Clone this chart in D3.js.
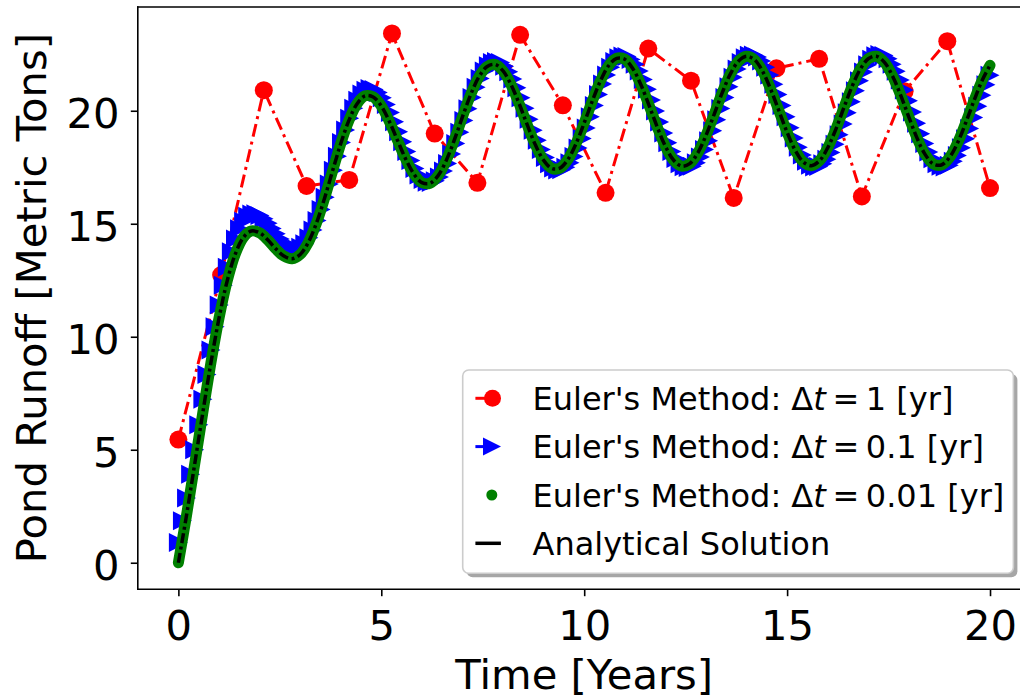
<!DOCTYPE html>
<html>
<head>
<meta charset="utf-8">
<script src="https://cdn.jsdelivr.net/npm/d3@7"></script>
<style>
  html, body { margin: 0; padding: 0; background: #ffffff; }
  svg { display: block; }
  text { white-space: pre; }
</style>
</head>
<body>
<svg id="chart" width="1020" height="698"></svg>
<script>
// Pond runoff model: Euler runs with three step sizes and the exact solution.

// Euler, Δt = 1 yr (20 stored steps spread over 0–20 yr)
const coarseValues = [5.45, 12.73, 20.91, 16.67, 16.94, 23.42, 18.99, 16.81, 23.36, 20.24,
  16.37, 22.75, 21.33, 16.14, 21.88, 22.30, 16.21, 20.86, 23.08, 16.58];

// Euler, Δt = 0.1 yr (200 stored steps spread over 0–20 yr)
const mediumValues = [
  0.90, 1.86, 2.86, 3.91, 5.00, 6.11, 7.23, 8.33, 9.41, 10.44,
  11.40, 12.28, 13.08, 13.76, 14.33, 14.78, 15.11, 15.33, 15.43, 15.44,
  15.36, 15.22, 15.02, 14.79, 14.56, 14.33, 14.13, 13.99, 13.90, 13.89,
  13.96, 14.12, 14.38, 14.72, 15.14, 15.63, 16.17, 16.76, 17.37, 17.99,
  18.59, 19.15, 19.67, 20.11, 20.47, 20.74, 20.91, 20.98, 20.94, 20.81,
  20.58, 20.28, 19.92, 19.51, 19.07, 18.63, 18.20, 17.80, 17.45, 17.16,
  16.96, 16.84, 16.82, 16.90, 17.07, 17.33, 17.67, 18.09, 18.55, 19.05,
  19.57, 20.09, 20.59, 21.04, 21.43, 21.76, 21.99, 22.14, 22.18, 22.13,
  21.97, 21.73, 21.41, 21.02, 20.58, 20.11, 19.62, 19.14, 18.69, 18.28,
  17.93, 17.66, 17.47, 17.38, 17.39, 17.50, 17.70, 17.98, 18.35, 18.77,
  19.24, 19.73, 20.23, 20.72, 21.18, 21.58, 21.92, 22.18, 22.35, 22.42,
  22.40, 22.27, 22.06, 21.76, 21.38, 20.95, 20.48, 19.99, 19.50, 19.02,
  18.58, 18.20, 17.89, 17.66, 17.52, 17.49, 17.54, 17.70, 17.95, 18.28,
  18.67, 19.12, 19.60, 20.10, 20.59, 21.06, 21.48, 21.85, 22.14, 22.35,
  22.46, 22.47, 22.38, 22.20, 21.93, 21.58, 21.17, 20.72, 20.23, 19.73,
  19.25, 18.79, 18.38, 18.04, 17.77, 17.59, 17.51, 17.53, 17.65, 17.85,
  18.15, 18.52, 18.94, 19.41, 19.91, 20.40, 20.88, 21.33, 21.72, 22.04,
  22.28, 22.43, 22.49, 22.44, 22.30, 22.06, 21.75, 21.36, 20.92, 20.44,
  19.95, 19.45, 18.98, 18.55, 18.18, 17.88, 17.66, 17.54, 17.51, 17.59,
  17.76, 18.02, 18.36, 18.76, 19.22, 19.70, 20.20, 20.69, 21.15, 21.57
];

// Exact solution, every 0.2 yr from 0 to 20
const analyticalValues = [
  0.00, 2.09, 4.34, 6.62, 8.83, 10.81, 12.45, 13.65, 14.39, 14.68,
  14.60, 14.29, 13.89, 13.57, 13.45, 13.64, 14.17, 15.02, 16.12, 17.34,
  18.54, 19.56, 20.30, 20.66, 20.61, 20.21, 19.52, 18.69, 17.87, 17.21,
  16.82, 16.79, 17.13, 17.80, 18.71, 19.73, 20.70, 21.48, 21.95, 22.05,
  21.76, 21.14, 20.30, 19.36, 18.48, 17.81, 17.45, 17.46, 17.85, 18.55,
  19.46, 20.43, 21.32, 21.99, 22.32, 22.28, 21.86, 21.14, 20.23, 19.28,
  18.43, 17.82, 17.55, 17.66, 18.14, 18.90, 19.83, 20.79, 21.62, 22.19,
  22.41, 22.25, 21.73, 20.93, 19.99, 19.05, 18.25, 17.73, 17.57, 17.79,
  18.36, 19.18, 20.14, 21.07, 21.83, 22.30, 22.41, 22.14, 21.53, 20.68,
  19.72, 18.80, 18.07, 17.65, 17.60, 17.93, 18.58, 19.46, 20.42, 21.32,
  22.01
];

// The Δt = 0.01 run sits on the exact curve at this scale, so it shares its samples.
const fineValues = analyticalValues;

const xTicks = [0, 5, 10, 15, 20];
const yTicks = [0, 5, 10, 15, 20];
const stepLabels = ["1", "0.1", "0.01"];
const xTitle = "Time [Years]";
const yTitle = "Pond Runoff [Metric Tons]";
const exactLabel = "Analytical Solution";

// Sample times of each series
const tEnd = 20;
const coarseTimes = d3.range(coarseValues.length).map(i => i * tEnd / (coarseValues.length - 1));
const mediumTimes = d3.range(mediumValues.length).map(i => i * tEnd / (mediumValues.length - 1));
const exactTimes = d3.range(analyticalValues.length).map(i => i * tEnd / (analyticalValues.length - 1));

const FONT = "'DejaVu Sans', sans-serif";
const svg = d3.select("#chart");

// Axes limits with 5% padding around the data
const [yLo, yHi] = d3.extent(coarseValues.concat(mediumValues, analyticalValues));
const yPad = 0.05 * (yHi - yLo);
const xPad = 0.05 * tEnd;
const x = d3.scaleLinear().domain([0 - xPad, tEnd + xPad]).range([137.8, 1030.6]);
const y = d3.scaleLinear().domain([yLo - yPad, yHi + yPad]).range([589.2, 7.0]);
const [xL, xR] = x.range();
const [yB, yT] = y.range();

svg.append("defs").append("clipPath").attr("id", "plotClip")
  .append("rect").attr("x", xL).attr("y", yT).attr("width", xR - xL).attr("height", yB - yT);

const plot = svg.append("g").attr("clip-path", "url(#plotClip)");

// Δt = 1 run: dash-dot line with round markers
const coarse = coarseTimes.map((t, i) => [t, coarseValues[i]]);
plot.append("path")
  .datum(coarse)
  .attr("fill", "none")
  .attr("stroke", "#ff0000")
  .attr("stroke-width", 3)
  .attr("stroke-dasharray", "13,5,3,5")
  .attr("d", d3.line().x(d => x(d[0])).y(d => y(d[1])));
plot.append("g").selectAll("circle")
  .data(coarse).join("circle")
  .attr("cx", d => x(d[0])).attr("cy", d => y(d[1]))
  .attr("r", 9).attr("fill", "#ff0000");

// Δt = 0.1 run: right-pointing triangles
const tri = 9.5;
const triPath = (cx, cy, s) => `M${cx + s},${cy}L${cx - s},${cy - s}L${cx - s},${cy + s}Z`;
plot.append("g").selectAll("path")
  .data(mediumTimes.map((t, i) => [t, mediumValues[i]])).join("path")
  .attr("d", d => triPath(x(d[0]), y(d[1]), tri))
  .attr("fill", "#0000ff");

// Δt = 0.01 run: dense dots merge into a solid band
plot.append("path")
  .datum(exactTimes.map((t, i) => [t, fineValues[i]]))
  .attr("fill", "none")
  .attr("stroke", "#008000")
  .attr("stroke-width", 11)
  .attr("stroke-linecap", "round")
  .attr("stroke-linejoin", "round")
  .attr("d", d3.line().curve(d3.curveCatmullRom).x(d => x(d[0])).y(d => y(d[1])));

// Exact solution: black dash-dot
plot.append("path")
  .datum(exactTimes.map((t, i) => [t, analyticalValues[i]]))
  .attr("fill", "none")
  .attr("stroke", "#000000")
  .attr("stroke-width", 3.5)
  .attr("stroke-dasharray", "10,3.5,3,3.5")
  .attr("d", d3.line().curve(d3.curveCatmullRom).x(d => x(d[0])).y(d => y(d[1])));

// Spines (left, top, bottom)
const spines = svg.append("g").attr("stroke", "#000").attr("stroke-width", 1.6).attr("fill", "none");
spines.append("line").attr("x1", xL).attr("x2", xL).attr("y1", yT).attr("y2", yB).attr("stroke-linecap", "square");
spines.append("line").attr("x1", xL).attr("x2", xR).attr("y1", yT).attr("y2", yT).attr("stroke-linecap", "square");
spines.append("line").attr("x1", xL).attr("x2", xR).attr("y1", yB).attr("y2", yB).attr("stroke-linecap", "square");

// Axes
const xAxis = svg.append("g")
  .attr("transform", `translate(0,${yB})`)
  .call(d3.axisBottom(x).tickValues(xTicks).tickSize(7).tickFormat(d3.format("d")));
xAxis.attr("font-family", FONT).attr("font-size", 41.7);
xAxis.select(".domain").remove();
xAxis.selectAll(".tick line").attr("stroke", "#000").attr("stroke-width", 1.6);
xAxis.selectAll(".tick text").attr("fill", "#000").attr("y", 0).attr("dy", 50.8);

const yAxis = svg.append("g")
  .attr("transform", `translate(${xL},0)`)
  .call(d3.axisLeft(y).tickValues(yTicks).tickSize(7).tickFormat(d3.format("d")));
yAxis.attr("font-family", FONT).attr("font-size", 41.7);
yAxis.select(".domain").remove();
yAxis.selectAll(".tick line").attr("stroke", "#000").attr("stroke-width", 1.6);
yAxis.selectAll(".tick text").attr("fill", "#000").attr("x", -18.3).attr("dy", 16.9);

// Axis titles
svg.append("text")
  .attr("x", (xL + xR) / 2).attr("y", 689)
  .attr("text-anchor", "middle")
  .attr("font-family", FONT).attr("font-size", 41.7).attr("fill", "#000")
  .text(xTitle);
svg.append("text")
  .attr("transform", `translate(45.5,${(yT + yB) / 2}) rotate(-90)`)
  .attr("text-anchor", "middle")
  .attr("font-family", FONT).attr("font-size", 41.7).attr("fill", "#000")
  .text(yTitle);

// Legend
const lg = { x: 462.7, y: 370, w: 550.7, h: 203.3 };
const legend = svg.append("g");
legend.append("rect")
  .attr("x", lg.x + 4).attr("y", lg.y + 4).attr("width", lg.w).attr("height", lg.h)
  .attr("rx", 6).attr("fill", "#a6a6a6");
legend.append("rect")
  .attr("x", lg.x).attr("y", lg.y).attr("width", lg.w).attr("height", lg.h)
  .attr("rx", 6).attr("fill", "#ffffff").attr("stroke", "#cccccc").attr("stroke-width", 1.6);

const rowBase = [410, 458.3, 506.7, 555];
const hx0 = 475.4, hMid = 492.5, textX = 532.5, legendFont = 32;
const rowMid = b => b - 11.7;

// Row 1: Δt = 1
legend.append("line").attr("x1", hx0).attr("x2", hx0 + 12).attr("y1", rowMid(rowBase[0])).attr("y2", rowMid(rowBase[0]))
  .attr("stroke", "#ff0000").attr("stroke-width", 3);
legend.append("circle").attr("cx", hMid).attr("cy", rowMid(rowBase[0])).attr("r", 8.5).attr("fill", "#ff0000");
// Row 2: Δt = 0.1
legend.append("line").attr("x1", hx0).attr("x2", hx0 + 10).attr("y1", rowMid(rowBase[1])).attr("y2", rowMid(rowBase[1]))
  .attr("stroke", "#0000ff").attr("stroke-width", 3);
legend.append("path").attr("d", triPath(hMid - 0.5, rowMid(rowBase[1]), 9)).attr("fill", "#0000ff");
// Row 3: Δt = 0.01
legend.append("circle").attr("cx", hMid - 0.7).attr("cy", rowMid(rowBase[2])).attr("r", 5.5).attr("fill", "#008000");
// Row 4: exact
legend.append("line").attr("x1", hx0).attr("x2", hx0 + 25.5).attr("y1", rowMid(rowBase[3])).attr("y2", rowMid(rowBase[3]))
  .attr("stroke", "#000000").attr("stroke-width", 3.5);

// Math-style spacing around the equals sign is tighter than a word space
const mathGap = 6.6;
stepLabels.forEach((s, i) => {
  const t = legend.append("text")
    .attr("x", textX).attr("y", rowBase[i])
    .attr("font-family", FONT).attr("font-size", legendFont).attr("fill", "#000");
  t.append("tspan").text("Euler's Method: \u0394");
  t.append("tspan").attr("font-style", "italic").text("t");
  t.append("tspan").attr("dx", mathGap).text("=");
  t.append("tspan").attr("dx", mathGap).text(s);
  t.append("tspan").text(" [yr]");
});
legend.append("text")
  .attr("x", textX).attr("y", rowBase[3])
  .attr("font-family", FONT).attr("font-size", legendFont).attr("fill", "#000")
  .text(exactLabel);
</script>
</body>
</html>
